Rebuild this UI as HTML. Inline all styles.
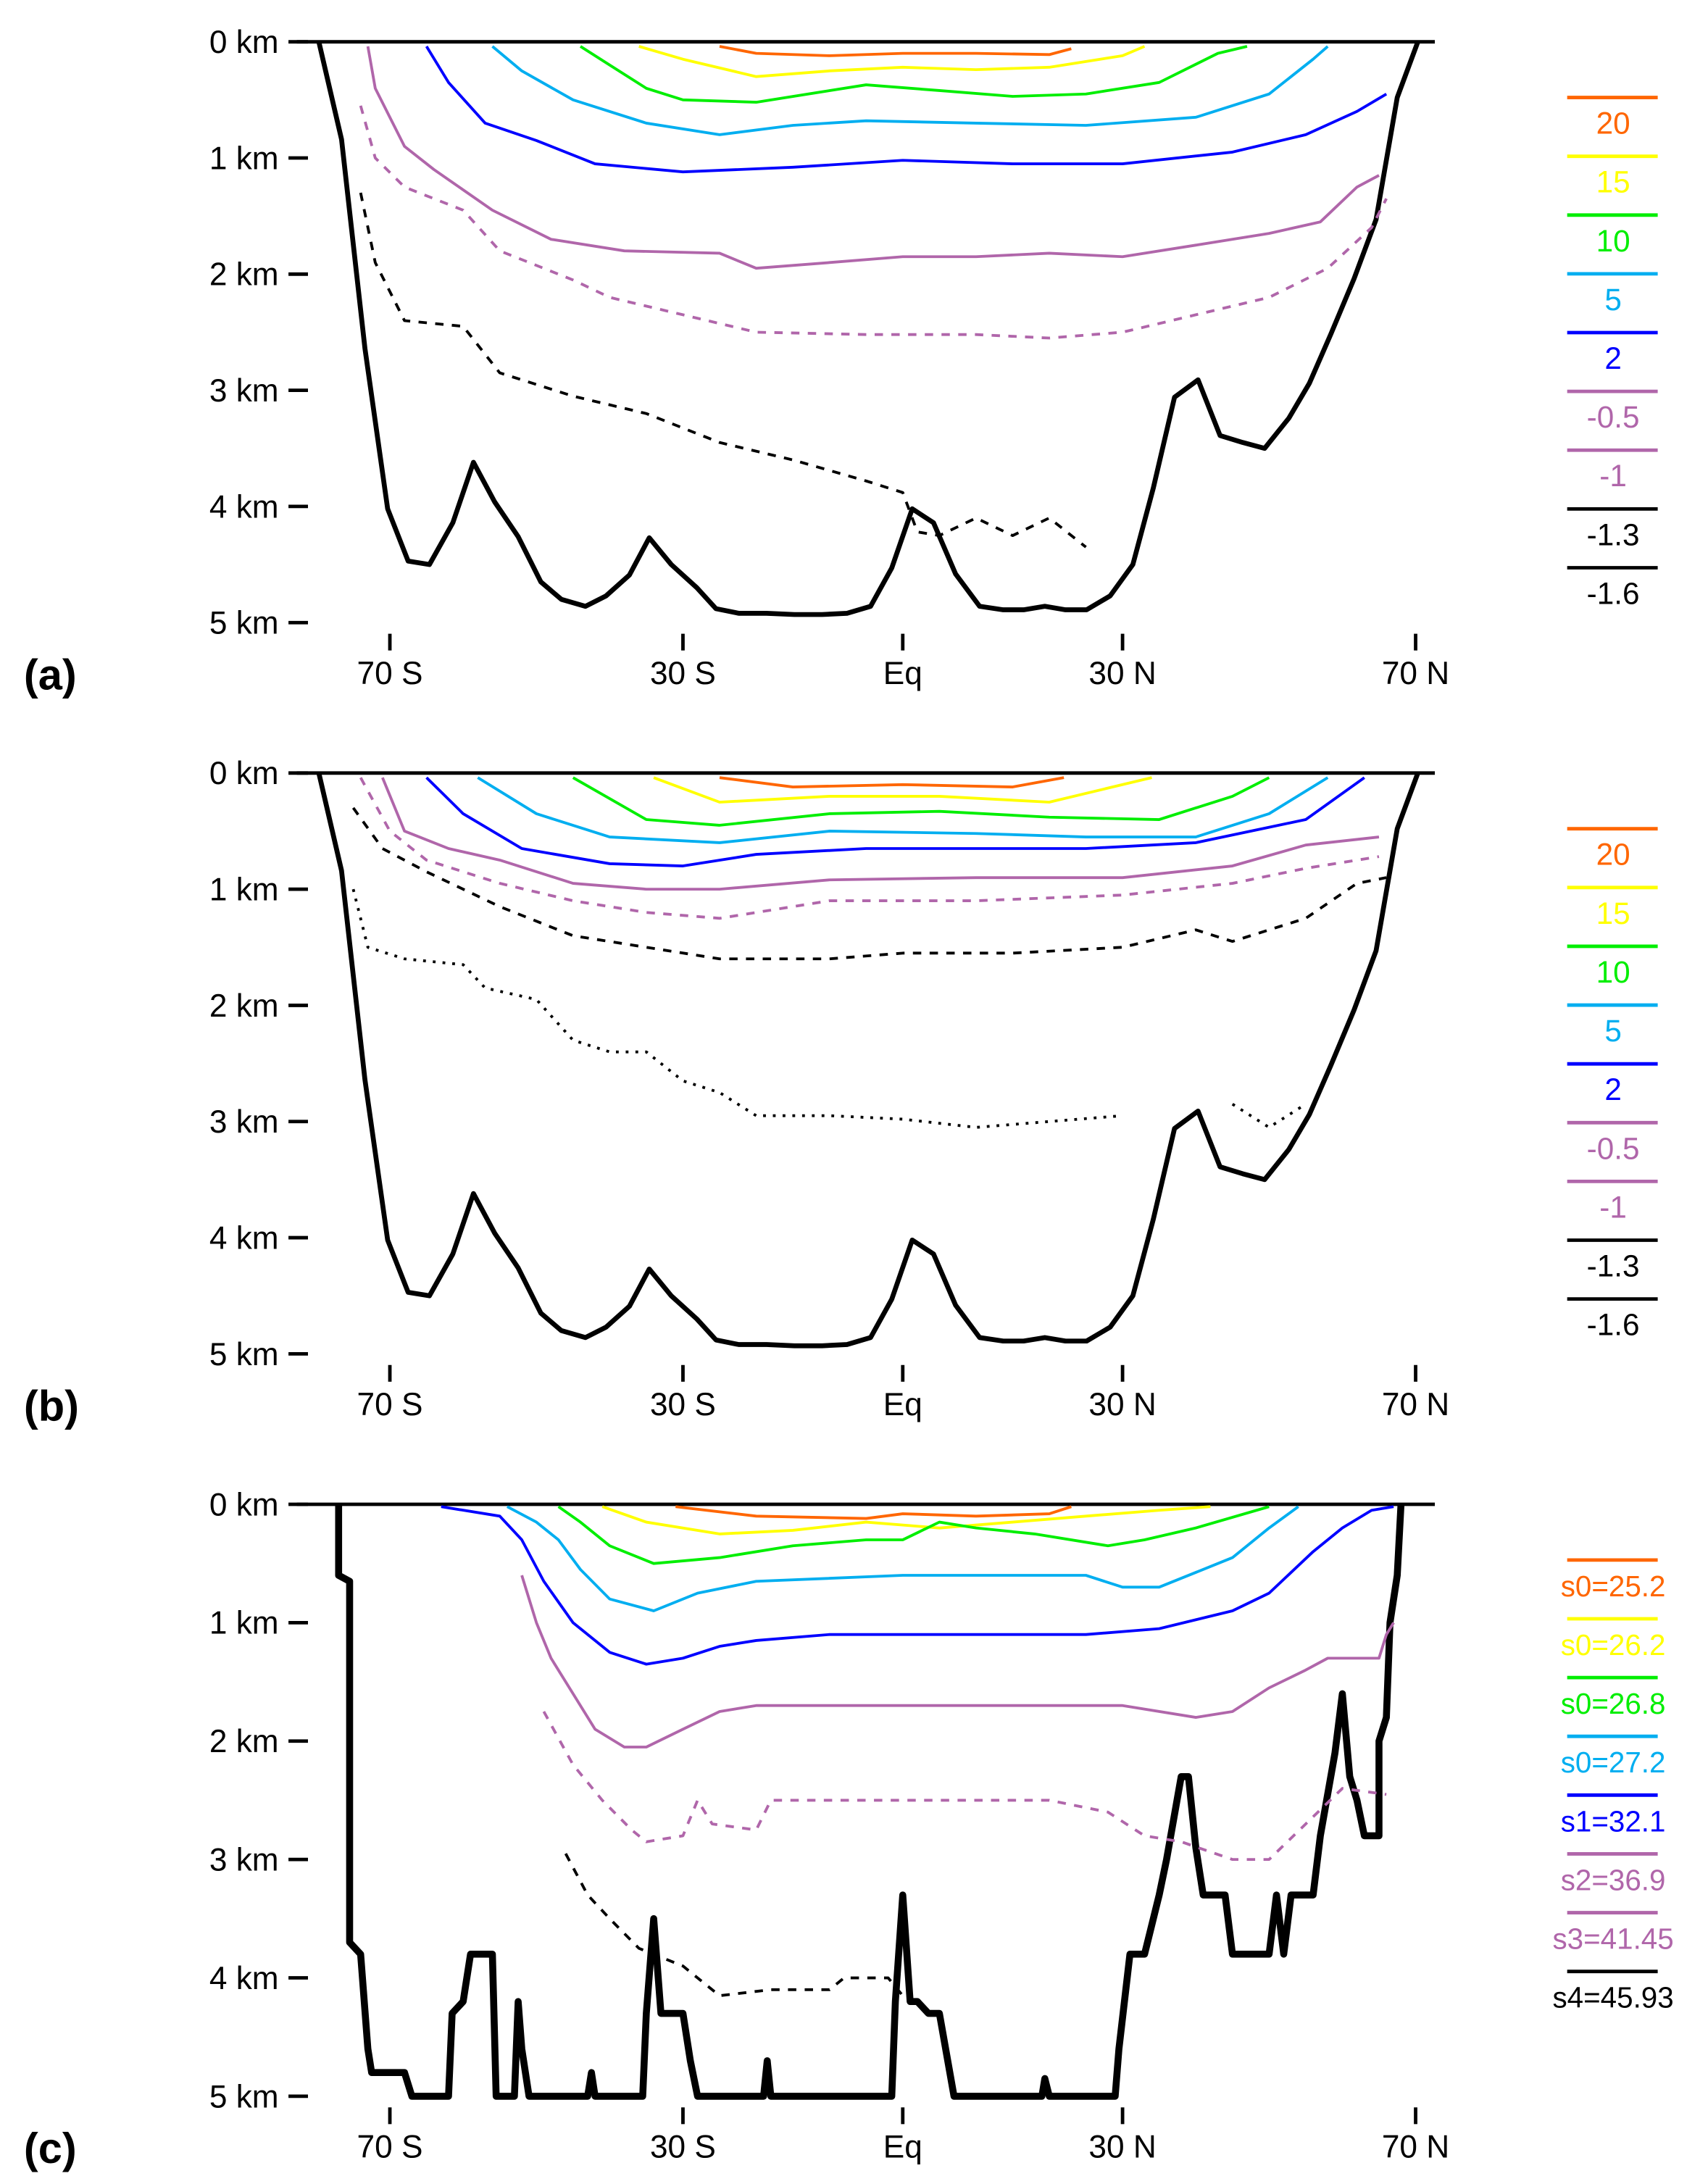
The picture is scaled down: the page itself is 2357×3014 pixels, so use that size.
<!DOCTYPE html>
<html><head><meta charset="utf-8"><style>
html,body{margin:0;padding:0;background:#fff}
svg{display:block}
text{font-family:"Liberation Sans",sans-serif}
</style></head><body>
<svg id="fig" width="2357" height="3014" viewBox="0 0 1226 1568" xmlns="http://www.w3.org/2000/svg"></svg>
<script>
// ---------- data ----------
const xTickLats = [-70, -30, 0, 30, 70];
const xTickLabels = ["70 S", "30 S", "Eq", "30 N", "70 N"];
const yTicks = [0, 1, 2, 3, 4, 5];

const bottomLat = [-79.7,-76.6,-73.4,-70.3,-67.5,-64.6,-61.4,-58.6,-55.7,-52.5,-49.4,-46.6,-43.3,-40.5,-37.3,-34.6,-31.6,-28.1,-25.5,-22.4,-18.6,-14.8,-11,-7.6,-4.4,-1.5,1.3,4.2,7.2,10.5,13.7,16.5,19.4,22.2,25.1,28.3,31.4,34.2,37.1,40.3,43.3,46.4,49.4,52.7,55.5,58.4,61.6,64.6,67.5,70.3];
const bottomDepth = [0,0.84,2.64,4.02,4.47,4.5,4.14,3.62,3.96,4.26,4.65,4.8,4.86,4.77,4.59,4.27,4.5,4.7,4.88,4.92,4.92,4.93,4.93,4.92,4.86,4.53,4.02,4.14,4.58,4.86,4.89,4.89,4.86,4.89,4.89,4.77,4.5,3.84,3.06,2.91,3.39,3.45,3.5,3.24,2.94,2.52,2.04,1.53,0.48,0];

const bottomCLat = [-77,-77,-75.5,-75.5,-74,-73,-72.5,-68,-67,-62,-61.5,-60,-59,-56,-55.5,-53,-52.5,-52,-51,-43,-42.5,-42,-35.5,-35,-34,-33,-30,-29,-28,-19,-18.5,-18,-1.5,-1,0,1,2,3.5,5,7,19,19.4,20,29,29.5,31,33,35,36,38,39,40,41,44,45,50,51,52,53,56,57,59,60,61,62,63,65,65,66,66.5,67.5,68];
const bottomCDepth = [0,0.6,0.65,3.7,3.8,4.6,4.8,4.8,5,5,4.3,4.2,3.8,3.8,5,5,4.2,4.6,5,5,4.8,5,5,4.3,3.5,4.3,4.3,4.7,5,5,4.7,5,5,4.2,3.3,4.2,4.2,4.3,4.3,5,5,4.85,5,5,4.6,3.8,3.8,3.3,3.0,2.3,2.3,2.9,3.3,3.3,3.8,3.8,3.3,3.8,3.3,3.3,2.8,2.1,1.6,2.3,2.5,2.8,2.8,2.0,1.8,1.0,0.6,0];

// panel a contours
const a20Lat=[-25,-20,-10,0,10,20,23], a20Dep=[0.04,0.1,0.12,0.1,0.1,0.11,0.06];
const a15Lat=[-36,-30,-20,-10,0,10,20,30,33], a15Dep=[0.04,0.15,0.3,0.25,0.22,0.24,0.22,0.12,0.04];
const a10Lat=[-44,-40,-35,-30,-20,-5,5,15,25,35,43,47], a10Dep=[0.04,0.2,0.4,0.5,0.52,0.37,0.42,0.47,0.45,0.35,0.1,0.04];
const a5Lat=[-56,-52,-45,-35,-25,-15,-5,10,25,40,50,56,58], a5Dep=[0.04,0.25,0.5,0.7,0.8,0.72,0.68,0.7,0.72,0.65,0.45,0.15,0.04];
const a2Lat=[-65,-62,-57,-50,-42,-30,-15,0,15,30,45,55,62,66], a2Dep=[0.04,0.35,0.7,0.85,1.05,1.12,1.08,1.02,1.05,1.05,0.95,0.8,0.6,0.45];
const aM05Lat=[-73,-72,-68,-64,-56,-48,-38,-25,-20,-10,0,10,20,30,40,50,57,62,65], aM05Dep=[0.04,0.4,0.9,1.1,1.45,1.7,1.8,1.82,1.95,1.9,1.85,1.85,1.82,1.85,1.75,1.65,1.55,1.25,1.15];
const aM1Lat=[-74,-72,-68,-60,-55,-45,-40,-30,-20,-5,10,20,30,40,50,58,64,66], aM1Dep=[0.55,1.0,1.25,1.45,1.8,2.05,2.2,2.35,2.5,2.52,2.52,2.55,2.5,2.35,2.2,1.95,1.6,1.35];
const aM13Lat=[-74,-72,-68,-60,-55,-45,-35,-25,-15,-5,0,2,5,10,15,20,25], aM13Dep=[1.3,1.9,2.4,2.45,2.85,3.05,3.2,3.45,3.6,3.78,3.88,4.22,4.25,4.1,4.25,4.1,4.35];

// panel b contours
const b20Lat=[-25,-15,0,15,22], b20Dep=[0.04,0.12,0.1,0.12,0.04];
const b15Lat=[-34,-25,-10,5,20,30,34], b15Dep=[0.04,0.25,0.2,0.2,0.25,0.1,0.04];
const b10Lat=[-45,-35,-25,-10,5,20,35,45,50], b10Dep=[0.04,0.4,0.45,0.35,0.33,0.38,0.4,0.2,0.04];
const b5Lat=[-58,-50,-40,-25,-10,10,25,40,50,58], b5Dep=[0.04,0.35,0.55,0.6,0.5,0.52,0.55,0.55,0.35,0.04];
const b2Lat=[-65,-60,-52,-40,-30,-20,-5,10,25,40,55,63], b2Dep=[0.04,0.35,0.65,0.78,0.8,0.7,0.65,0.65,0.65,0.6,0.4,0.04];
const bM05Lat=[-71,-68,-62,-55,-45,-35,-25,-10,10,30,45,55,65], bM05Dep=[0.04,0.5,0.65,0.75,0.95,1.0,1.0,0.92,0.9,0.9,0.8,0.62,0.55];
const bM1Lat=[-74,-70,-65,-55,-45,-35,-25,-10,10,30,45,55,65], bM1Dep=[0.04,0.5,0.75,0.95,1.1,1.2,1.25,1.1,1.1,1.05,0.95,0.82,0.72];
const bM13Lat=[-75,-71,-65,-55,-45,-35,-25,-10,0,15,30,40,45,55,62,66], bM13Dep=[0.3,0.65,0.85,1.15,1.4,1.5,1.6,1.6,1.55,1.55,1.5,1.35,1.45,1.25,0.95,0.9];
const bM16Lat=[-75,-73,-68,-60,-57,-50,-45,-40,-35,-30,-25,-20,-10,0,10,20,30], bM16Dep=[1.0,1.5,1.6,1.65,1.85,1.95,2.3,2.4,2.4,2.65,2.75,2.95,2.95,2.98,3.05,3.0,2.95];
const bM16bLat=[45,50,55], bM16bDep=[2.85,3.05,2.85];

// panel c contours
const c1Lat=[-31,-20,-5,0,10,20,23], c1Dep=[0.02,0.1,0.12,0.08,0.1,0.08,0.02];
const c2Lat=[-41,-35,-25,-15,-5,5,15,25,35,42], c2Dep=[0.02,0.15,0.25,0.22,0.15,0.2,0.15,0.1,0.05,0.02];
const c3Lat=[-47,-44,-40,-34,-25,-15,-5,0,5,10,18,28,33,40,50], c3Dep=[0.02,0.15,0.35,0.5,0.45,0.35,0.3,0.3,0.15,0.2,0.25,0.35,0.3,0.2,0.02];
const c4Lat=[-54,-50,-47,-44,-40,-34,-28,-20,0,15,25,30,35,45,50,54], c4Dep=[0.02,0.15,0.3,0.55,0.8,0.9,0.75,0.65,0.6,0.6,0.6,0.7,0.7,0.45,0.2,0.02];
const c5Lat=[-63,-55,-52,-49,-45,-40,-35,-30,-25,-20,-10,10,25,35,45,50,56,60,64,67], c5Dep=[0.02,0.1,0.3,0.65,1.0,1.25,1.35,1.3,1.2,1.15,1.1,1.1,1.1,1.05,0.9,0.75,0.4,0.2,0.05,0.02];
const c6Lat=[-52,-50,-48,-45,-42,-38,-35,-30,-25,-20,0,20,30,40,45,50,55,58,65,66,67], c6Dep=[0.6,1.0,1.3,1.6,1.9,2.05,2.05,1.9,1.75,1.7,1.7,1.7,1.7,1.8,1.75,1.55,1.4,1.3,1.3,1.1,1.0];
const c7Lat=[-49,-45,-41,-37,-35,-30,-28,-26,-20,-18,0,10,20,28,33,38,45,50,55,60,66], c7Dep=[1.75,2.2,2.5,2.75,2.85,2.8,2.5,2.7,2.75,2.5,2.5,2.5,2.5,2.6,2.8,2.85,3.0,3.0,2.7,2.4,2.45];
const c8Lat=[-46,-43,-40,-36,-30,-25,-18,-10,-8,-2,0], c8Dep=[2.95,3.3,3.5,3.75,3.9,4.15,4.1,4.1,4.0,4.0,4.15];

const legendAB = ["20","15","10","5","2","-0.5","-1","-1.3","-1.6"];
const legendC = ["s0=25.2","s0=26.2","s0=26.8","s0=27.2","s1=32.1","s2=36.9","s3=41.45","s4=45.93"];

// ---------- drawing ----------
const NS="http://www.w3.org/2000/svg";
const svg=document.getElementById('fig');
const COL={or:"#ff6600",ye:"#ffff00",gr:"#00ee00",cy:"#00aef0",bl:"#0000ff",pu:"#b066aa",bk:"#000"};
function el(tag,attrs,parent){const e=document.createElementNS(NS,tag);for(const k in attrs)e.setAttribute(k,attrs[k]);(parent||svg).appendChild(e);return e;}
function xS(lat){return 648+lat*5.26;}

const panels=[
 {id:'a',y0:30,kp:83.4,label:'(a)'},
 {id:'b',y0:555,kp:83.4,label:'(b)'},
 {id:'c',y0:1080,kp:85,label:'(c)'}
];
const styles={solid:"",dash:"6,6",dot:"2,5"};

function line(p,lats,deps,color,style,w,name){
  const d=lats.map((l,i)=>(i?'L':'M')+xS(l).toFixed(1)+','+(p.y0+deps[i]*p.kp).toFixed(1)).join(' ');
  const e=el('path',{d:d,fill:'none',stroke:color,'stroke-width':w,'stroke-dasharray':styles[style],'stroke-linejoin':'round'});
  
  
}

panels.forEach(p=>{
  const g=el('g',{});
  
  
  el('line',{x1:213,y1:p.y0,x2:1030,y2:p.y0,stroke:'#000','stroke-width':2.5},g);
  yTicks.forEach(k=>{
    const y=p.y0+k*p.kp;
    el('line',{x1:207,y1:y,x2:221,y2:y,stroke:'#000','stroke-width':2.5},g);
    const t=el('text',{x:200,y:y+8,'font-size':23,'text-anchor':'end'},g);
    t.textContent=k+' km';
    
    
  });
  const yb=p.y0+5*p.kp;
  xTickLats.forEach((l,i)=>{
    el('line',{x1:xS(l),y1:yb+8,x2:xS(l),y2:yb+20,stroke:'#000','stroke-width':2.5},g);
    const t=el('text',{x:xS(l),y:yb+44,'font-size':23,'text-anchor':'middle'},g);
    t.textContent=xTickLabels[i];
    
    
  });
  const pl=el('text',{x:17,y:yb+48,'font-size':31,'font-weight':'bold','font-family':'Liberation Serif, serif'},g);
  pl.textContent=p.label;
  
  
  const labels=p.id==='c'?legendC:legendAB;
  const cols=p.id==='c'?[COL.or,COL.ye,COL.gr,COL.cy,COL.bl,COL.pu,COL.pu,COL.bk]:[COL.or,COL.ye,COL.gr,COL.cy,COL.bl,COL.pu,COL.pu,COL.bk,COL.bk];
  const sty=p.id==='c'?['solid','solid','solid','solid','solid','solid','dash','dash']:['solid','solid','solid','solid','solid','solid','dash','dash','dot'];
  labels.forEach((lb,i)=>{
    const ly=p.y0+40+i*42.2;
    el('line',{x1:1125,y1:ly,x2:1190,y2:ly,stroke:cols[i],'stroke-width':2.5,'stroke-dasharray':sty[i]},g);
    const t=el('text',{x:1158,y:ly+26,'font-size':p.id==='c'?21:22,'text-anchor':'middle',fill:cols[i]},g);
    t.textContent=lb;
    
    
  });
});

const [pa,pb,pc]=panels;
line(pa,bottomLat,bottomDepth,COL.bk,'solid',3.5,'seafloor-a');
line(pb,bottomLat,bottomDepth,COL.bk,'solid',3.5,'seafloor-b');
line(pc,bottomCLat,bottomCDepth,COL.bk,'solid',5,'seafloor-c');

line(pa,a20Lat,a20Dep,COL.or,'solid',2,'contour-20');
line(pa,a15Lat,a15Dep,COL.ye,'solid',2,'contour-15');
line(pa,a10Lat,a10Dep,COL.gr,'solid',2,'contour-10');
line(pa,a5Lat,a5Dep,COL.cy,'solid',2,'contour-5');
line(pa,a2Lat,a2Dep,COL.bl,'solid',2,'contour-2');
line(pa,aM05Lat,aM05Dep,COL.pu,'solid',2,'contour-m0.5');
line(pa,aM1Lat,aM1Dep,COL.pu,'dash',2,'contour-m1');
line(pa,aM13Lat,aM13Dep,COL.bk,'dash',2,'contour-m1.3');

line(pb,b20Lat,b20Dep,COL.or,'solid',2,'contour-20');
line(pb,b15Lat,b15Dep,COL.ye,'solid',2,'contour-15');
line(pb,b10Lat,b10Dep,COL.gr,'solid',2,'contour-10');
line(pb,b5Lat,b5Dep,COL.cy,'solid',2,'contour-5');
line(pb,b2Lat,b2Dep,COL.bl,'solid',2,'contour-2');
line(pb,bM05Lat,bM05Dep,COL.pu,'solid',2,'contour-m0.5');
line(pb,bM1Lat,bM1Dep,COL.pu,'dash',2,'contour-m1');
line(pb,bM13Lat,bM13Dep,COL.bk,'dash',2,'contour-m1.3');
line(pb,bM16Lat,bM16Dep,COL.bk,'dot',2,'contour-m1.6');
line(pb,bM16bLat,bM16bDep,COL.bk,'dot',2,'contour-m1.6-north');

line(pc,c1Lat,c1Dep,COL.or,'solid',2,'contour-s0-25.2');
line(pc,c2Lat,c2Dep,COL.ye,'solid',2,'contour-s0-26.2');
line(pc,c3Lat,c3Dep,COL.gr,'solid',2,'contour-s0-26.8');
line(pc,c4Lat,c4Dep,COL.cy,'solid',2,'contour-s0-27.2');
line(pc,c5Lat,c5Dep,COL.bl,'solid',2,'contour-s1-32.1');
line(pc,c6Lat,c6Dep,COL.pu,'solid',2,'contour-s2-36.9');
line(pc,c7Lat,c7Dep,COL.pu,'dash',2,'contour-s3-41.45');
line(pc,c8Lat,c8Dep,COL.bk,'dash',2,'contour-s4-45.93');
</script>
</body></html>
